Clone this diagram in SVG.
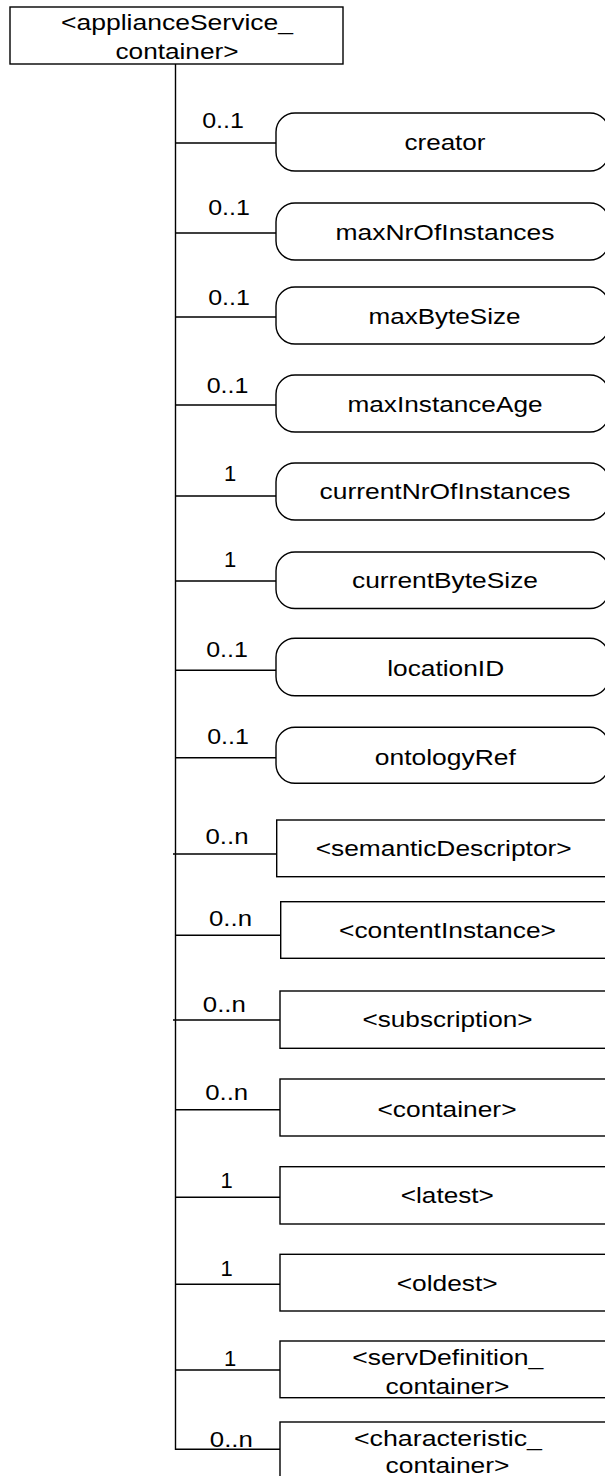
<svg xmlns="http://www.w3.org/2000/svg" width="605" height="1476" viewBox="0 0 605 1476">
<style>
.box{fill:#fff;stroke:#000;stroke-width:1.4}
.ln{fill:none;stroke:#000;stroke-width:1.4}
text{font-family:"Liberation Sans",Arial,sans-serif;font-size:22px;fill:#000;text-anchor:middle}
</style>
<rect width="605" height="1476" fill="#fff"/>
<g id="connectors">
<path class="ln" d="M175.5,64 V1449.3 H280"/>
<path class="ln" d="M175.5,143 H276 M175.5,233 H276 M175.5,317 H276 M175.5,405 H276 M175.5,496 H276 M175.5,581 H276 M175.5,670.3 H276 M175.5,757.7 H276"/>
<path class="ln" d="M173,854 H276.7 M175.5,935.3 H280.7 M173,1020 H280 M175.5,1109.7 H280 M175.5,1197.3 H280 M175.5,1284.3 H280 M175.5,1370 H280"/>
<text x="223" y="128" textLength="41.7" lengthAdjust="spacingAndGlyphs">0..1</text>
<text x="229" y="214.5" textLength="41.7" lengthAdjust="spacingAndGlyphs">0..1</text>
<text x="229" y="305" textLength="41.7" lengthAdjust="spacingAndGlyphs">0..1</text>
<text x="227.5" y="393" textLength="41.7" lengthAdjust="spacingAndGlyphs">0..1</text>
<text x="230" y="481">1</text>
<text x="230" y="567">1</text>
<text x="227" y="656.7" textLength="41.7" lengthAdjust="spacingAndGlyphs">0..1</text>
<text x="228" y="744" textLength="41.7" lengthAdjust="spacingAndGlyphs">0..1</text>
<text x="227" y="844.3" textLength="43" lengthAdjust="spacingAndGlyphs">0..n</text>
<text x="230.5" y="925.7" textLength="43" lengthAdjust="spacingAndGlyphs">0..n</text>
<text x="224.3" y="1012.3" textLength="43" lengthAdjust="spacingAndGlyphs">0..n</text>
<text x="226.7" y="1100" textLength="43" lengthAdjust="spacingAndGlyphs">0..n</text>
<text x="226.7" y="1187.7">1</text>
<text x="226.7" y="1276">1</text>
<text x="230" y="1366">1</text>
<text x="231.3" y="1446.7" textLength="43" lengthAdjust="spacingAndGlyphs">0..n</text>
</g>
<g id="root">
<rect class="box" x="10" y="7" width="333" height="57"/>
<text x="177" y="29.5" textLength="232" lengthAdjust="spacingAndGlyphs">&lt;applianceService_</text>
<text x="177" y="59" textLength="123" lengthAdjust="spacingAndGlyphs">container&gt;</text>
</g>
<g id="creator">
<rect class="box" x="276" y="113" width="333" height="58" rx="19" ry="19"/>
<text x="445" y="150" textLength="81" lengthAdjust="spacingAndGlyphs">creator</text>
</g>
<g id="maxNrOfInstances">
<rect class="box" x="276" y="203" width="333" height="57" rx="19" ry="19"/>
<text x="445" y="239.5" textLength="219" lengthAdjust="spacingAndGlyphs">maxNrOfInstances</text>
</g>
<g id="maxByteSize">
<rect class="box" x="276" y="287" width="333" height="57" rx="19" ry="19"/>
<text x="444.5" y="324" textLength="152" lengthAdjust="spacingAndGlyphs">maxByteSize</text>
</g>
<g id="maxInstanceAge">
<rect class="box" x="276" y="375" width="333" height="57" rx="19" ry="19"/>
<text x="445" y="411.7" textLength="195" lengthAdjust="spacingAndGlyphs">maxInstanceAge</text>
</g>
<g id="currentNrOfInstances">
<rect class="box" x="276" y="463" width="333" height="57" rx="19" ry="19"/>
<text x="445" y="499.3" textLength="251" lengthAdjust="spacingAndGlyphs">currentNrOfInstances</text>
</g>
<g id="currentByteSize">
<rect class="box" x="276" y="552" width="333" height="56.5" rx="19" ry="19"/>
<text x="445" y="588" textLength="186" lengthAdjust="spacingAndGlyphs">currentByteSize</text>
</g>
<g id="locationID">
<rect class="box" x="276" y="638.3" width="333" height="57.4" rx="19" ry="19"/>
<text x="445.7" y="676" textLength="117" lengthAdjust="spacingAndGlyphs">locationID</text>
</g>
<g id="ontologyRef">
<rect class="box" x="276" y="727.3" width="333" height="56" rx="19" ry="19"/>
<text x="445.3" y="765" textLength="141" lengthAdjust="spacingAndGlyphs">ontologyRef</text>
</g>
<g id="semanticDescriptor">
<rect class="box" x="276.7" y="820" width="340" height="56.7"/>
<text x="443.7" y="856" textLength="256" lengthAdjust="spacingAndGlyphs">&lt;semanticDescriptor&gt;</text>
</g>
<g id="contentInstance">
<rect class="box" x="280.7" y="901.7" width="340" height="56.6"/>
<text x="447.5" y="938.3" textLength="217" lengthAdjust="spacingAndGlyphs">&lt;contentInstance&gt;</text>
</g>
<g id="subscription">
<rect class="box" x="280" y="991" width="340" height="57.3"/>
<text x="447.5" y="1026.7" textLength="170" lengthAdjust="spacingAndGlyphs">&lt;subscription&gt;</text>
</g>
<g id="container">
<rect class="box" x="280" y="1079" width="340" height="57"/>
<text x="447" y="1116.7" textLength="139" lengthAdjust="spacingAndGlyphs">&lt;container&gt;</text>
</g>
<g id="latest">
<rect class="box" x="280" y="1166.7" width="340" height="57.3"/>
<text x="447.3" y="1203.3" textLength="93" lengthAdjust="spacingAndGlyphs">&lt;latest&gt;</text>
</g>
<g id="oldest">
<rect class="box" x="280" y="1254.3" width="340" height="56.7"/>
<text x="447.2" y="1290.7" textLength="101" lengthAdjust="spacingAndGlyphs">&lt;oldest&gt;</text>
</g>
<g id="servDefinition_container">
<rect class="box" x="280" y="1341" width="340" height="56.7"/>
<text x="447.8" y="1365.3" textLength="191" lengthAdjust="spacingAndGlyphs">&lt;servDefinition_</text>
<text x="447.5" y="1394.3" textLength="124" lengthAdjust="spacingAndGlyphs">container&gt;</text>
</g>
<g id="characteristic_container">
<rect class="box" x="280" y="1422" width="340" height="60"/>
<text x="448" y="1446" textLength="188" lengthAdjust="spacingAndGlyphs">&lt;characteristic_</text>
<text x="447.5" y="1472.7" textLength="124" lengthAdjust="spacingAndGlyphs">container&gt;</text>
</g>
</svg>
